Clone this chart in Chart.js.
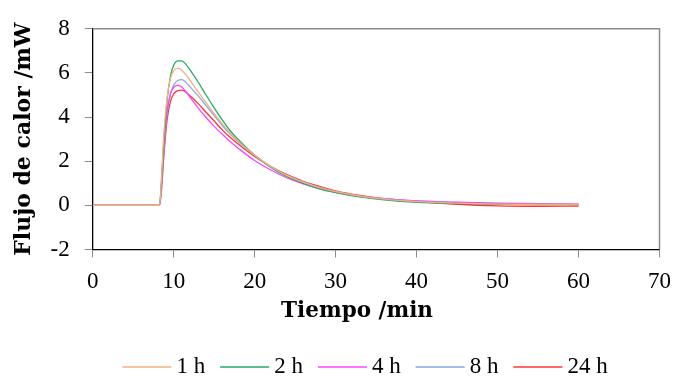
<!DOCTYPE html>
<html><head><meta charset="utf-8">
<script src="https://cdn.jsdelivr.net/npm/chart.js@4.4.0/dist/chart.umd.min.js"></script>
<style>html,body{margin:0;padding:0;background:#fff}#w{width:682px;height:378px}</style>
</head><body><div id="w"><canvas id="c"></canvas></div>
<script>
const times = [0,8,8.25,8.5,8.8,9.2,9.6,10,10.5,11,11.5,12,13,14,15,16,17,18,20,22,24,26,28,30,33,36,40,45,50,55,60];
const seriesNames = ["1 h","2 h","4 h","8 h","24 h"];
const s1h  = [0,0,0,1.3,3.3,4.9,5.75,6.1,6.22,6.12,5.92,5.68,5.15,4.65,4.15,3.7,3.27,2.9,2.27,1.75,1.35,1.05,0.8,0.62,0.42,0.28,0.17,0.1,0.06,0.04,0.03];
const s2h  = [0,0,0,1.1,3.0,4.8,5.85,6.35,6.55,6.55,6.4,6.15,5.6,5.0,4.42,3.87,3.37,2.97,2.27,1.72,1.3,1.0,0.75,0.58,0.38,0.25,0.14,0.08,0.05,0.04,0.03];
const s4h  = [0,0,0,1.0,2.8,4.3,5.05,5.35,5.44,5.36,5.15,4.9,4.42,3.98,3.58,3.22,2.88,2.58,2.03,1.6,1.24,0.97,0.76,0.59,0.4,0.29,0.2,0.14,0.1,0.08,0.06];
const s8h  = [0,0,0,0.9,2.6,4.2,5.05,5.45,5.66,5.7,5.58,5.38,4.97,4.52,4.07,3.62,3.22,2.87,2.27,1.76,1.36,1.06,0.81,0.62,0.42,0.3,0.2,0.13,0.08,0.06,0.05];
const s24h = [0,0,0,0.7,2.3,3.9,4.7,5.05,5.2,5.22,5.14,4.97,4.62,4.22,3.82,3.42,3.07,2.77,2.22,1.76,1.39,1.09,0.86,0.66,0.45,0.3,0.17,0.05,-0.02,-0.04,-0.03];
const colors = ["#f5b07e","#22aa66","#ff44ff","#88aae0","#ff3333"];
const allSeries = [s1h,s2h,s4h,s8h,s24h];

const datasets = allSeries.map((s,i)=>({
  label: seriesNames[i],
  data: s.map((v,j)=>({x:times[j], y:v})),
  borderColor: colors[i], backgroundColor: colors[i],
  borderWidth: 1.3, pointRadius: 0, cubicInterpolationMode: 'monotone', fill: false
}));

const TF = "'Liberation Serif', serif";
const BF = "'DejaVu Serif', serif";

const extras = {
  id:'extras',
  afterDatasetsDraw(chart){
    const {ctx, chartArea:a} = chart;
    ctx.save(); ctx.strokeStyle='#8c8c8c'; ctx.lineWidth=1.5;
    ctx.beginPath();
    ctx.moveTo(a.left, a.top); ctx.lineTo(a.right, a.top); ctx.lineTo(a.right, a.bottom);
    ctx.stroke(); ctx.restore();
  },
  afterDraw(chart){
    const {ctx} = chart;
    ctx.save();
    ctx.fillStyle='#000'; ctx.font = "bold 21.5px " + BF;
    ctx.textAlign='center'; ctx.textBaseline='middle';
    ctx.fillText('Tiempo /min', 357, 311);
    ctx.font = "23px " + TF; ctx.textAlign='left'; ctx.textBaseline='alphabetic';
    const lineW = 49, gapT = 5, gapI = 15;
    const ds = chart.data.datasets;
    const widths = ds.map(d=>ctx.measureText(d.label).width);
    let total = 0; widths.forEach((w,i)=>{ total += lineW + gapT + w + (i<ds.length-1?gapI:0); });
    let x = 365 - total/2;
    ds.forEach((d,i)=>{
      ctx.strokeStyle = d.borderColor; ctx.lineWidth = 1.5;
      ctx.beginPath(); ctx.moveTo(x, 367); ctx.lineTo(x+lineW, 367); ctx.stroke();
      ctx.fillStyle='#000';
      ctx.fillText(d.label, x+lineW+gapT, 373);
      x += lineW + gapT + widths[i] + gapI;
    });
    ctx.restore();
  }
};

new Chart(document.getElementById('c'), {
  type: 'line',
  data: { datasets },
  plugins: [extras],
  options: {
    responsive: true, maintainAspectRatio: false, animation: false,
    layout: { padding: { left: 0, right: 13, top: 19, bottom: 0 } },
    plugins: { legend: { display: false }, tooltip: { enabled: false } },
    scales: {
      x: { type: 'linear', min: 0, max: 70,
        afterFit(s){ s.height = 128.5; },
        ticks: { stepSize: 10, color:'#000', font:{family:TF, size:23}, padding: 11 },
        grid: { drawOnChartArea: false, drawTicks: true, tickLength: 8, color:'#8c8c8c' },
        border: { color:'#000', width: 1.3 }
      },
      y: { min: -2, max: 8,
        afterFit(s){ s.width = 92.7; },
        ticks: { stepSize: 2, color:'#000', font:{family:TF, size:23}, padding: 15 },
        grid: { drawOnChartArea: false, drawTicks: true, tickLength: 8, color:'#8c8c8c' },
        border: { color:'#000', width: 1.3 },
        title: { display: true, text: 'Flujo de calor /mW', color:'#000', font:{family:BF, size:22, weight:'bold'}, padding:{top:11,bottom:0} }
      }
    }
  }
});
</script></body></html>
